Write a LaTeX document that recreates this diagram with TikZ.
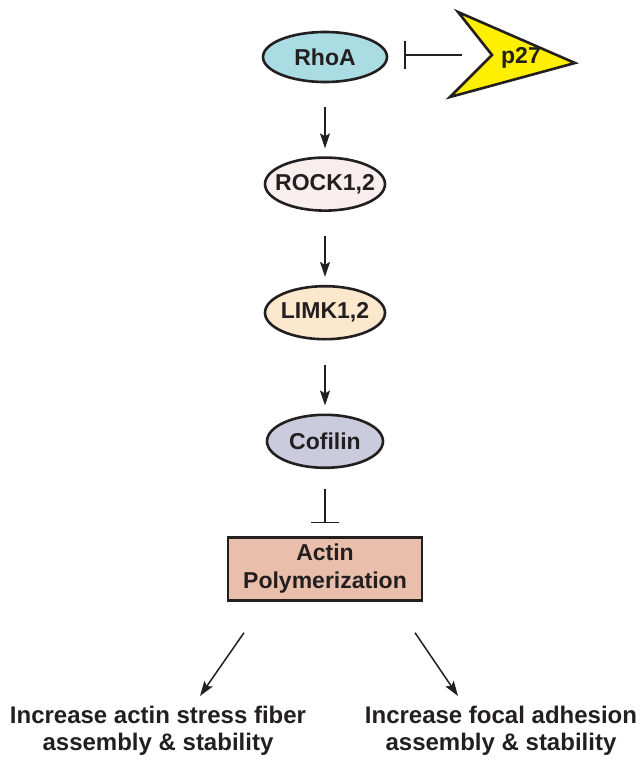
\documentclass[tikz,border=0pt]{standalone}
\usepackage{fontspec}
\setmainfont{Liberation Sans}
\usepackage{xcolor}
\usetikzlibrary{arrows.meta, positioning, shapes.geometric}

\definecolor{rhoafill}{HTML}{A9DCE3}
\definecolor{rockfill}{HTML}{F9EEEE}
\definecolor{limkfill}{HTML}{FCE8CC}
\definecolor{cofilfill}{HTML}{CACBDD}
\definecolor{actinfill}{HTML}{E9BEAA}
\definecolor{p27fill}{HTML}{FFEF00}
\definecolor{ink}{HTML}{231F20}

\newcommand{\mollabel}[1]{\makebox[0pt]{#1}}

\begin{document}
\begin{tikzpicture}[x=1pt, y=-1pt,
          node distance=73pt,
          every node/.style={font=\fontsize{23}{28}\selectfont\bfseries, text=ink},
          mol/.style={ellipse, draw=ink, line width=2.6pt, minimum width=120pt,
                      minimum height=53pt, inner sep=0pt},
          box/.style={rectangle, draw=ink, line width=2.6pt, fill=actinfill,
                      minimum width=194pt, minimum height=63pt, align=center},
          outcome/.style={font=\fontsize{24}{27}\selectfont\bfseries, align=center},
          arr/.style={-{Stealth[length=15pt, width=10pt, inset=3pt]}, line width=1.5pt, draw=ink},
          chain/.style={arr, shorten <=24pt, shorten >=8pt},
          inh/.style={-{Bar[width=28pt]}, line width=1.5pt, draw=ink}
        ]
          \useasboundingbox (0,0) rectangle (642,760);
          % signalling chain
          \node[mol, fill=rhoafill, minimum width=124pt, minimum height=50pt] (rhoa) at (325,57) {\mollabel{RhoA}};
          \node[mol, fill=rockfill, below=of rhoa]  (rock)    {\mollabel{ROCK1,2}};
          \node[mol, fill=limkfill, below=of rock]  (limk)    {\mollabel{LIMK1,2}};
          \node[mol, fill=cofilfill, below=of limk, minimum width=116pt] (cofilin) {\mollabel{Cofilin}};
          \node[box, below=67pt of cofilin] (actin) {Actin\\Polymerization};
          % p27 chevron
          \coordinate (p27top)   at (458,12);
          \coordinate (p27tip)   at (575,63);
          \coordinate (p27bot)   at (450,97);
          \coordinate (p27notch) at (492,55);
          \draw[ink, fill=p27fill, line width=2.6pt, line join=miter]
            (p27top) -- (p27tip) -- (p27bot) -- (p27notch) -- cycle;
          \node (p27) at (521,58) {p27};
          % outcomes
          \node[outcome] (stress) at (158,731) {Increase actin stress fiber\\assembly \& stability};
          \node[outcome] (focal)  at (501,731) {Increase focal adhesion\\assembly \& stability};
          % connectors
          \draw[inh, shorten <=30pt, shorten >=16pt] (p27notch) -- (rhoa.east |- p27notch);
          \draw[chain] (rhoa) -- (rock);
          \draw[chain] (rock) -- (limk);
          \draw[chain] (limk) -- (cofilin);
          \draw[inh, shorten <=20pt, shorten >=13pt] (cofilin) -- (actin);
          \draw[arr] ([shift={(-81,31)}]actin.south) -- ([shift={(42,-35)}]stress.center);
          \draw[arr] ([shift={(90,31)}]actin.south) -- ([shift={(-43,-35)}]focal.center);
        \end{tikzpicture}
\end{document}
